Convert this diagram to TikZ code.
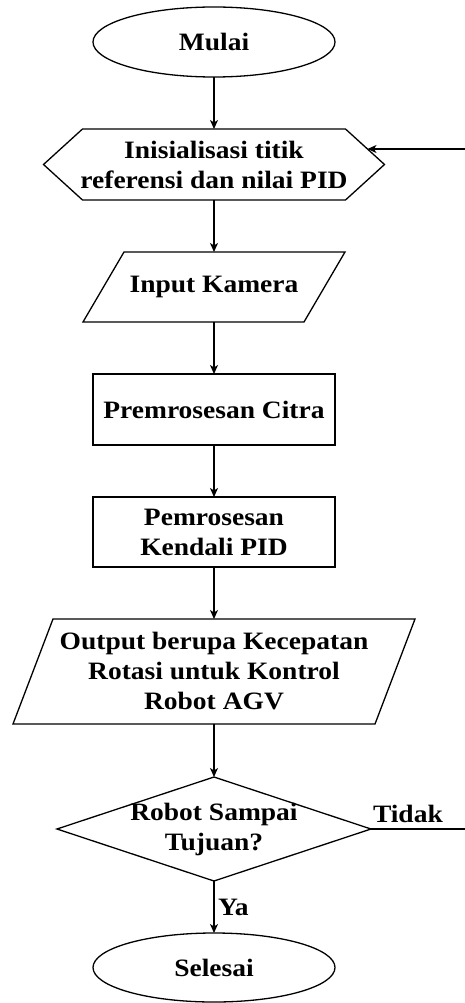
\documentclass[tikz,border=0pt]{standalone}
\usepackage{fontspec}
\newfontfamily\diafont{Liberation Serif}[FakeStretch=1.1]
\usetikzlibrary{arrows.meta,calc,shapes.geometric}
\begin{document}
\begin{tikzpicture}[x=1pt,y=-1pt, line width=1.3pt,
  font=\diafont\bfseries\fontsize{25}{30}\selectfont,
  every node/.style={inner sep=0pt, outer sep=0pt, align=center},
  term/.style={ellipse, draw, minimum width=242pt, minimum height=70pt},
  proc/.style={rectangle, draw, minimum width=242pt, minimum height=71pt},
  frame/.style={rectangle, draw=none},
  outline/.style={draw, line join=miter},
  flow/.style={-{Stealth[length=9pt,width=8pt,inset=2.5pt]}}]
\useasboundingbox (0,0) rectangle (464,1003);

% nodes
\node[term] (start) at (214,42) {Mulai};
\node[frame, minimum width=341pt, minimum height=71pt] (init) at (214,164.5) {Inisialisasi titik\\referensi dan nilai PID};
\node[frame, minimum width=262pt, minimum height=70pt] (cam) at (214,287) {Input Kamera};
\node[proc] (pre) at (214,409.5) {Premrosesan Citra};
\node[proc, minimum height=70pt] (pid) at (214,532) {Pemrosesan\\Kendali PID};
\node[frame, minimum width=402pt, minimum height=105pt] (out) at (214,671.5) {Output berupa Kecepatan\\Rotasi untuk Kontrol\\Robot AGV};
\node[frame, minimum width=314pt, minimum height=104pt] (dec) at (214,829) {Robot Sampai\\Tujuan?};
\node[term, minimum height=69pt] (end) at (214,967.5) {Selesai};

% outlines of special shapes
\draw[outline] (init.west) -- ($(init.north west)+(39,0)$) -- ($(init.north east)+(-39,0)$) -- (init.east) -- ($(init.south east)+(-39,0)$) -- ($(init.south west)+(39,0)$) -- cycle;
\draw[outline] ($(cam.north west)+(41,0)$) -- (cam.north east) -- ($(cam.south east)+(-41,0)$) -- (cam.south west) -- cycle;
\draw[outline] ($(out.north west)+(40,0)$) -- (out.north east) -- ($(out.south east)+(-40,0)$) -- (out.south west) -- cycle;
\draw[outline] (dec.north) -- (dec.east) -- (dec.south) -- (dec.west) -- cycle;

% connectors
\draw[flow] (start) -- (init);
\draw[flow] (init) -- (cam);
\draw[flow] (cam) -- (pre);
\draw[flow] (pre) -- (pid);
\draw[flow] (pid) -- (out);
\draw[flow] (out) -- (dec);
\draw[flow] (dec) -- (end);

% feedback loop
\coordinate (initNE) at ($(init.north east)+(-39,0)$);
\coordinate (hexin) at ($(initNE)!0.5634!(init.east)$);
\coordinate (loopB) at (466,829);
\draw[flow] (dec.east) -- (loopB) -- (loopB |- hexin) -- (hexin);

% labels
\node[anchor=base west] (tidak) at (373,822) {Tidak};
\node[anchor=west] (ya) at (218,907) {Ya};
\end{tikzpicture}
\end{document}
